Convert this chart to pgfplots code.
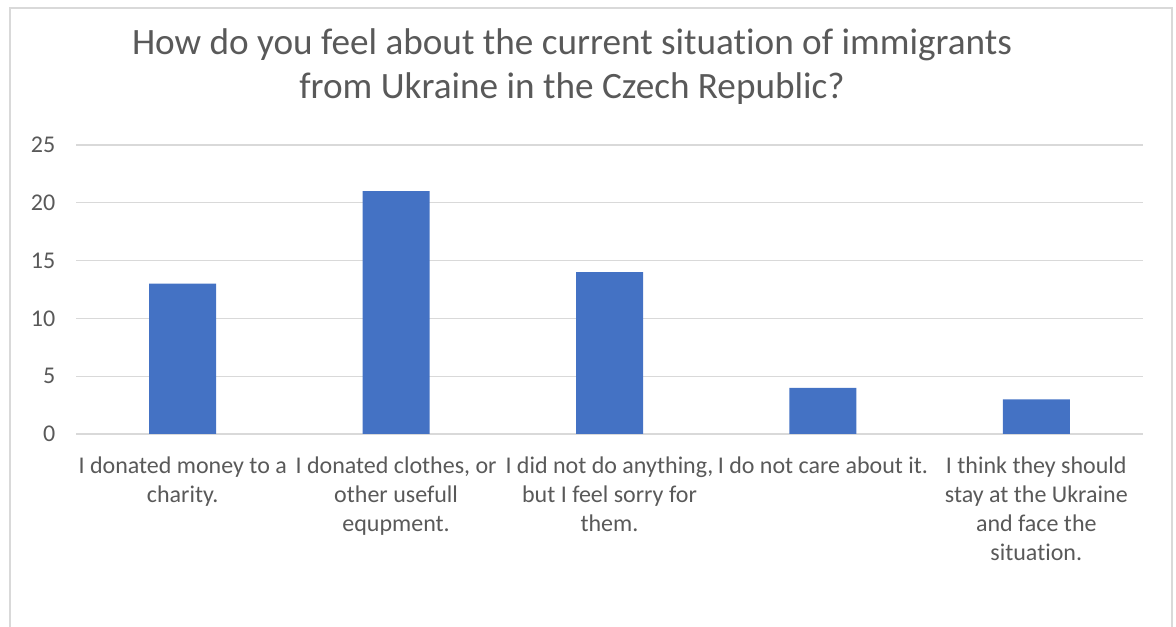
\documentclass[border=0pt]{standalone}
\usepackage{pgfplots}
\pgfplotsset{compat=1.18}
\usepackage{fontspec}
\setmainfont{Carlito}[Ligatures={NoCommon}]
\definecolor{barblue}{HTML}{4472C4}
\definecolor{gridgray}{HTML}{D9D9D9}
\definecolor{txtgray}{HTML}{595959}
\begin{document}
\begin{tikzpicture}
\useasboundingbox (0,0) rectangle (882pt,470.25pt);
\draw[gridgray, line width=1.2pt] (7.5pt,-15pt) -- (7.5pt,464.25pt) -- (879pt,464.25pt) -- (879pt,-15pt);
\node[text=txtgray, font=\fontsize{27.9}{32.5}\selectfont, align=center] at (429pt,420.4pt)
  {How do you feel about the current situation of immigrants\\from Ukraine in the Czech Republic?};
\begin{axis}[
  at={(57pt,144.75pt)}, anchor=south west,
  scale only axis, width=800.25pt, height=216.75pt,
  ybar, bar width=50.25pt,
  xmin=-0.5, xmax=4.5, ymin=0, ymax=25,
  ytick={0,5,10,15,20,25},
  xtick={0,1,2,3,4},
  xticklabels={{I donated money to a\\charity.},{I donated clothes, or\\other usefull\\equpment.},{I did not do anything,\\but I feel sorry for\\them.},{I do not care about it.},{I think they should\\stay at the Ukraine\\and face the\\situation.}},
  xticklabel style={align=center, text=txtgray, font=\fontsize{18}{21.75}\selectfont, anchor=north, yshift=-13.5pt},
  yticklabel style={text=txtgray, font=\fontsize{18}{21.75}\selectfont, anchor=east, xshift=-12pt},
  /pgf/number format/assume math mode=true,
  major tick length=0pt,
  ymajorgrids, grid style={gridgray, line width=0.9pt},
  axis x line*=bottom, axis y line*=left,
  y axis line style={draw=none},
  x axis line style={gridgray, line width=1.2pt, -},
  enlargelimits=false,
  clip=false,
]
\addplot[fill=barblue, draw=none] coordinates {(0,13) (1,21) (2,14) (3,4) (4,3)};
\end{axis}
\end{tikzpicture}
\end{document}
